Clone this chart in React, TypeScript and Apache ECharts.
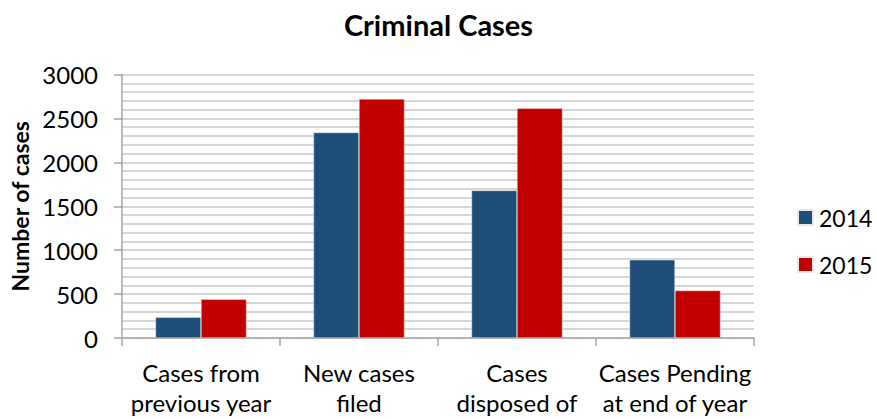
import React, { useEffect, useRef } from "react";
import * as echarts from "echarts";

const categories = [
  "Cases from\nprevious year",
  "New cases\nfiled",
  "Cases\ndisposed of",
  "Cases Pending\nat end of year",
];
const cases2014 = [235, 2340, 1680, 890];
const cases2015 = [440, 2720, 2615, 540];
const seriesNames = ["2014", "2015"];

const FONT = "Lato, 'Open Sans', sans-serif";

export default function App() {
  const ref = useRef<HTMLDivElement>(null);

  useEffect(() => {
    if (!ref.current) return;
    const chart = echarts.init(ref.current, null, { renderer: "svg" });
    chart.setOption({
      animation: false,
      backgroundColor: "#ffffff",
      textStyle: { fontFamily: FONT, color: "#000" },
      title: {
        text: "Criminal Cases",
        left: "center",
        top: 5,
        textStyle: { fontFamily: FONT, fontSize: 29, fontWeight: "bold", color: "#000" },
      },
      legend: {
        orient: "vertical",
        left: 797,
        top: 206,
        padding: 0,
        itemWidth: 15,
        itemHeight: 15,
        itemGap: 24,
        icon: "rect",
        data: seriesNames,
        textStyle: { fontFamily: FONT, fontSize: 23, color: "#000", padding: [0, 0, 0, 1] },
      },
      grid: {
        left: 122,
        right: 123,
        top: 74.5,
        bottom: 81,
        containLabel: false,
        outerBoundsMode: "none",
      },
      xAxis: {
        type: "category",
        data: categories,
        axisLine: { lineStyle: { color: "#a6a6a6", width: 1.5 } },
        axisTick: { show: true, length: 8, lineStyle: { color: "#a6a6a6", width: 1.5 } },
        axisLabel: {
          fontFamily: FONT,
          fontSize: 24,
          color: "#000",
          lineHeight: 30,
          margin: 19,
          interval: 0,
        },
      },
      yAxis: {
        type: "value",
        min: 0,
        max: 3000,
        interval: 500,
        name: "Number of cases",
        nameLocation: "middle",
        nameGap: 91,
        nameTextStyle: { fontFamily: FONT, fontSize: 23, fontWeight: "bold", color: "#000" },
        axisLine: { show: true, lineStyle: { color: "#a6a6a6", width: 1.5 } },
        axisTick: { show: true, length: 8, lineStyle: { color: "#a6a6a6", width: 1.5 } },
        axisLabel: {
          fontFamily: FONT,
          fontSize: 24,
          color: "#000",
          margin: 24,
          formatter: (v: number) => String(v),
        },
        splitLine: { show: true, lineStyle: { color: "#c8c8c8", width: 1.5 } },
        minorTick: { show: false, splitNumber: 5 },
        minorSplitLine: { show: true, lineStyle: { color: "#c8c8c8", width: 1.5 } },
      },
      series: [
        {
          name: seriesNames[0],
          type: "bar",
          data: cases2014,
          barWidth: 45.5,
          barGap: "0%",
          itemStyle: { color: "#1f4e79", borderColor: "#e8e8e8", borderWidth: 0.5 },
        },
        {
          name: seriesNames[1],
          type: "bar",
          data: cases2015,
          barWidth: 45.5,
          barGap: "0%",
          itemStyle: { color: "#c00000", borderColor: "#e8e8e8", borderWidth: 0.5 },
        },
      ],
    });
    return () => chart.dispose();
  }, []);

  return (
    <div
      ref={ref}
      style={{ position: "fixed", left: 0, top: 0, width: 877, height: 419 }}
    />
  );
}
